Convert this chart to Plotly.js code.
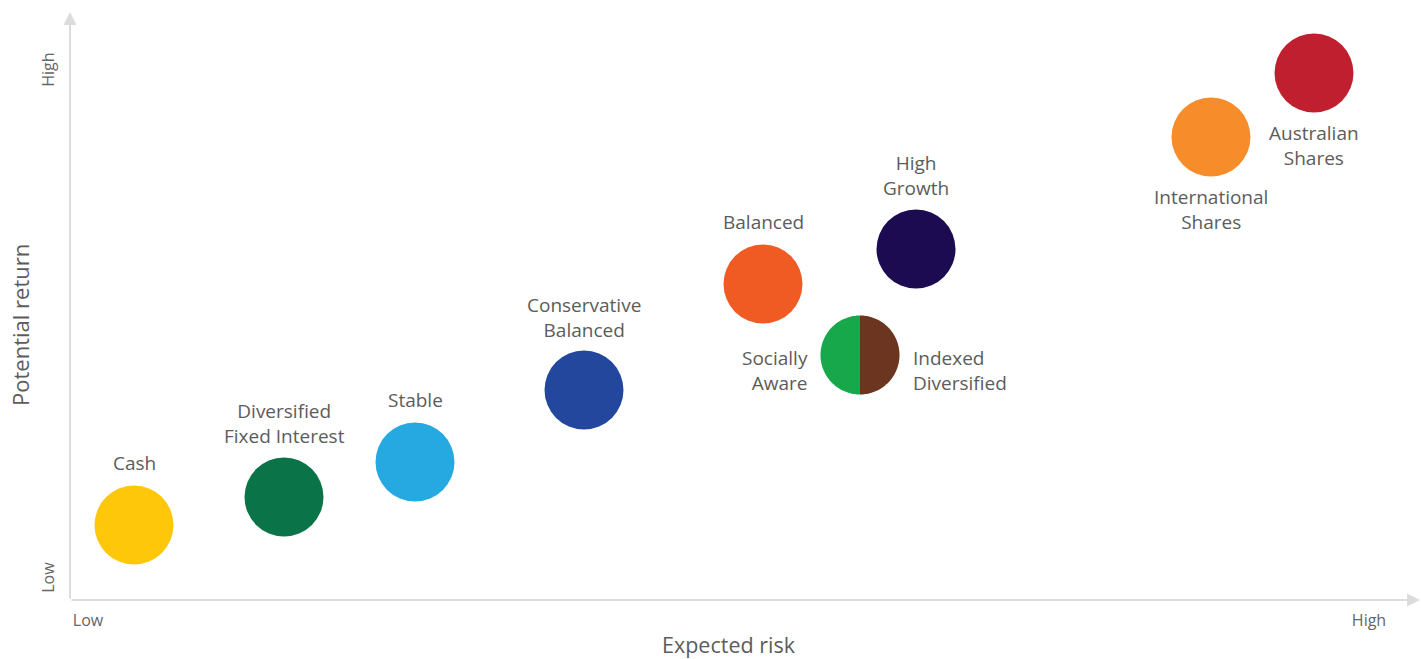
<!DOCTYPE html>
<html><head><meta charset="utf-8">
<script src="https://cdn.plot.ly/plotly-3.0.1.min.js"></script>
<style>html,body{margin:0;padding:0;background:#fff}#chart{width:1422px;height:659px}</style>
</head><body><div id="chart"></div>
<script>
// Values: expected risk (x) and potential return (y), on an arbitrary 0–1352 / 0–590 scale
const funds = ["Cash","Diversified Fixed Interest","Stable","Conservative Balanced","Balanced","High Growth","International Shares","Australian Shares"];
const labels = ["Cash","Diversified<br>Fixed Interest","Stable","Conservative<br>Balanced","Balanced","High<br>Growth","International<br>Shares","Australian<br>Shares"];
const risk = [64, 214, 345, 514, 693, 846, 1141, 1244];
const ret = [75, 103, 138, 210, 316, 351, 463, 527];
const colors = ["#FFC709","#0A7347","#25A9E0","#23479D","#F05A23","#1D0B52","#F68D2A","#BF1F2F"];
// label offsets (label centre relative to bubble centre)
const labDx = [0, 0, 0, 0, 0, 0, 0, 0];
const labDy = [62, 74, 62, 73, 62, 74, -72, -72];

// split bubble
const splitNames = ["Socially Aware","Indexed Diversified"];
const splitLabels = ["Socially<br>Aware","Indexed<br>Diversified"];
const splitRisk = 790, splitRet = 245;
const splitColors = ["#16A84B","#6B3520"];

const xTickVals = [18, 1299], xTickText = ["Low","High"];
const yTickVals = [20, 528], yTickText = ["Low","High"];

const R = 39.5;
const textColor = "#5c5c5c";
const font = "'Open Sans', sans-serif";

const traces = [];
traces.push({type:"scatter", mode:"markers", x:risk, y:ret, text:funds, hoverinfo:"text",
  marker:{size:2*R, color:colors, line:{width:0}}, showlegend:false});
function halfDisc(cx, cy, side){
  const xs=[], ys=[];
  for(let i=0;i<=90;i++){
    const a = -Math.PI/2 + Math.PI*i/90;
    xs.push(cx + side*R*Math.cos(a)); ys.push(cy + R*Math.sin(a));
  }
  return {xs, ys};
}
[-1, 1].forEach((side, k)=>{
  const h = halfDisc(splitRisk, splitRet, side);
  traces.push({type:"scatter", mode:"none", x:h.xs, y:h.ys, fill:"toself", fillcolor:splitColors[k],
    line:{width:0}, hoveron:"fills", name:splitNames[k], showlegend:false});
});

const ann = [];
funds.forEach((f,i)=>{
  ann.push({x:risk[i]+labDx[i], y:ret[i]+labDy[i], xref:"x", yref:"y", text:labels[i], showarrow:false,
    font:{family:font, size:19, color:textColor}, align:"center", xanchor:"center", yanchor:"middle"});
});
ann.push({x:splitRisk-R-11, y:splitRet-15, xref:"x", yref:"y", text:splitLabels[0], showarrow:false,
  font:{family:font, size:19, color:textColor}, align:"right", xanchor:"right", yanchor:"middle"});
ann.push({x:splitRisk+R+11, y:splitRet-15, xref:"x", yref:"y", text:splitLabels[1], showarrow:false,
  font:{family:font, size:19, color:textColor}, align:"left", xanchor:"left", yanchor:"middle"});
// axis arrows
ann.push({x:1350, y:0, ax:0, ay:0, xref:"x", yref:"y", axref:"x", ayref:"y", text:"", showarrow:true,
  arrowhead:2, arrowsize:1.3, arrowwidth:2, arrowcolor:"#dcdcdc"});
ann.push({x:0, y:588, ax:0, ay:0, xref:"x", yref:"y", axref:"x", ayref:"y", text:"", showarrow:true,
  arrowhead:2, arrowsize:1.3, arrowwidth:2, arrowcolor:"#dcdcdc"});
// axis titles
ann.push({x:(729-70)/1352, y:(600-644)/590, xref:"paper", yref:"paper", text:"Expected risk", showarrow:false,
  borderpad:0, font:{family:font, size:21.5, color:textColor}, xanchor:"center", yanchor:"middle"});
ann.push({x:(20-70)/1352, y:(600-325)/590, xref:"paper", yref:"paper", text:"Potential return", showarrow:false, textangle:-90,
  borderpad:0, font:{family:font, size:22, color:textColor}, xanchor:"center", yanchor:"middle"});

const layout = {
  width:1422, height:659,
  margin:{l:70, r:0, t:10, b:59},
  paper_bgcolor:"#fff", plot_bgcolor:"#fff",
  xaxis:{range:[0,1352], showgrid:false, zeroline:false, showline:false, tickvals:xTickVals, ticktext:xTickText,
    ticks:"", ticklabelstandoff:9, tickfont:{family:font, size:16, color:"#666"}, fixedrange:true},
  yaxis:{range:[0,590], showgrid:false, zeroline:false, showline:false, tickvals:yTickVals, ticktext:yTickText,
    ticks:"", ticklabelstandoff:12, tickangle:-90, tickfont:{family:font, size:16, color:"#666"}, fixedrange:true},
  annotations:ann, showlegend:false, hovermode:"closest"
};
Plotly.newPlot("chart", traces, layout, {displayModeBar:false});
</script></body></html>
